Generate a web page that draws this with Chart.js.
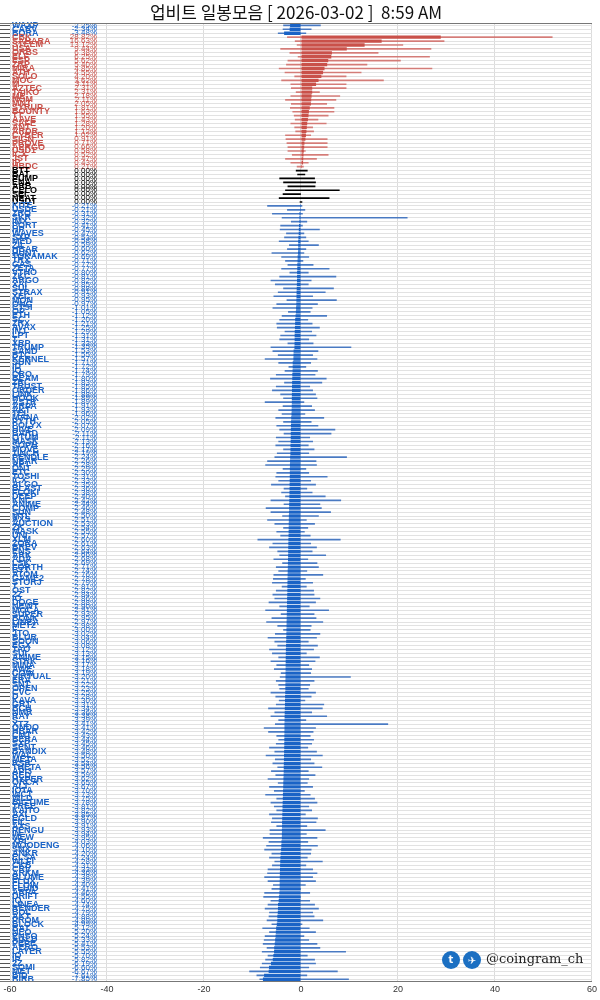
<!DOCTYPE html>
<html><head><meta charset="utf-8">
<script src="https://cdn.jsdelivr.net/npm/chart.js@4"></script>
<style>html,body{margin:0;padding:0;background:#fff}#wrap{width:600px;height:1000px;position:relative}</style>
</head><body><div id="wrap"><canvas id="c"></canvas></div>
<script>
const titleText = '업비트 일봉모음 [ 2026-03-02 ]  8:59 AM';
const xTicks = [-60,-40,-20,0,20,40,60];

const topNames = ['WAXP','CARV','BORA'];
const topClose = [-2.25,-2.34,-3.48];
const topHigh = [4.0,2.1,1.0];
const topLow = [-3.6,-3.7,-4.7];

const redNames = ['CBK','SAHARA','STEEM','USA','ORBS','ELF','ESP','ZRP','MIRA','ATH','SOLO','MOC','M','AZTEC','TAIKO','ME','NOM','MNT','SYRUP','BOUNTY','TT','AAVE','SAFE','ANT','ARDR','CYBER','SIGN','PROVE','AERGO','USD1','ICX','JST','IP','HBDC'];
const redClose = [28.82,16.63,13.12,9.44,6.38,6.25,5.62,5.40,4.85,4.55,4.20,3.62,3.11,2.31,2.31,2.18,2.11,2.05,1.81,1.63,1.55,1.43,1.28,1.20,1.12,1.02,0.91,0.71,0.66,0.58,0.52,0.47,0.43,0.21];
const redHigh = [51.8,29.5,21.0,26.8,15.9,26.5,20.5,13.6,27.0,12.4,9.3,17.0,9.3,9.3,3.8,8.0,7.2,5.3,6.8,6.8,5.6,3.5,5.2,2.4,2.6,2.0,5.4,5.4,5.4,0.9,5.6,3.2,1.5,0.5];
const redLow = [-2.8,-1.2,-0.8,-4.2,-2.3,-0.6,-2.7,-3.0,-4.5,-3.3,-1.3,-4.0,-2.1,-2.0,-1.0,-2.1,-3.2,-2.0,-2.2,-1.7,-1.4,-1.2,-2.1,-1.3,-1.1,-3.2,-3.1,-2.9,-2.7,-2.7,-1.8,-3.2,-2.1,-0.8];

const zeroNames = ['BTT','BAT','PUMP','ENA','ARB','CELO','SEI','NEAT','USDT'];
const zeroClose = [0,0,0,0,0,0,0,0,0];
const zeroHigh = [1.3,0.8,2.8,3.0,2.9,7.9,0.0,5.8,0.2];
const zeroLow = [-1.0,-0.7,-4.4,-3.6,-2.7,-3.2,-3.7,-4.5,-0.2];

const blueNames = [
'KITE','USDE','ZRO','SKR','IMX','PORT','HP','WAVES','SXP','MED',
'ZIL','HBAR','HUNT','TOKAMAK','TRX','GAS','ZETA','VTHO','ZKC','ARGO',
'XAI','SUI','STRAX','XEC','MON','ONG','CTSI','OP','ETH','SC',
'ZRX','AVAX','INJ','LPT','T','XRP','TRUMP','SAND','BTC','KERNEL',
'SUN','ID','IQ','CRO','BEAM','ZRC','TRUST','ORDER','LINK','HOOK',
'ASTR','ARPA','AKT','TEL','MANA','PYTH','POLYX','HIVE','BARD','QTUM',
'MASK','SOPH','MOVE','1INCH','PENDLE','NEAR','APT','ONT','ETC','TOSHI',
'ICX','ALGO','BLAST','FLOKI','DEEP','KNC','ANIME','COMP','SUN','MTL',
'AXS','AUCTION','ZK','MASK','UNI','XLM','ZORA','BREV','ENS','ARK',
'ADA','LSK','FORTH','BTT','ATOM','GAME2','STORJ','T','OST','2Z',
'IO','DOGE','NEWT','MOCA','SUPER','BONK','LINEA','MET2','F','JTO',
'BLUR','SOON','EGX','TAO','SUI','ANIME','STRK','MINA','AWE','COW',
'VIRTUAL','ERA','SNT','OPEN','CVC','D','KAVA','GRT','BCH','NMR',
'RAY','S','XTZ','ONDO','HBAR','CMT','BERA','SXP','SENT','BANDIX',
'WAL','META','RSR','THETA','API3','RED','HYPER','ORCA','ALT','IOTA',
'WCT','WLD','BIGTIME','TREE','KAITO','AXL','EGLD','FIL','AXS','PENGU',
'IN','MEW','XPL','MOODENG','SNX','ANKR','ELSA','WLFI','CKB','CRV',
'ARKM','BLUME','FLUX','FLOW','FLUID','ARPA','DRIFT','IQ','LINEA','RENDER',
'BOL','AKT','PROM','BLOCK','BAT','NEO','ENSO','AGLD','PEPE','AERO',
'LAYER','IO','IP','2Z','SOMI','MET','BID','BIRB'];
const blueClose = [
-0.21,-0.21,-0.31,-0.32,-0.32,-0.41,-0.45,-0.47,-0.53,-0.58,
-0.59,-0.60,-0.62,-0.69,-0.71,-0.77,-0.77,-0.80,-0.81,-0.82,
-0.85,-0.88,-0.91,-0.93,-0.95,-0.97,-1.01,-1.05,-1.12,-1.20,
-1.21,-1.25,-1.29,-1.31,-1.31,-1.33,-1.35,-1.53,-1.55,-1.57,
-1.71,-1.72,-1.74,-1.79,-1.80,-1.83,-1.85,-1.86,-1.88,-1.89,
-1.89,-1.91,-1.93,-1.96,-2.02,-2.05,-2.07,-2.09,-2.11,-2.11,
-2.13,-2.16,-2.17,-2.19,-2.24,-2.26,-2.28,-2.29,-2.30,-2.31,
-2.33,-2.35,-2.36,-2.38,-2.40,-2.42,-2.44,-2.46,-2.48,-2.50,
-2.51,-2.53,-2.54,-2.55,-2.57,-2.60,-2.61,-2.63,-2.64,-2.66,
-2.68,-2.69,-2.71,-2.74,-2.76,-2.78,-2.79,-2.81,-2.82,-2.84,
-2.86,-2.88,-2.90,-2.91,-2.93,-2.95,-2.97,-2.98,-3.00,-3.02,
-3.04,-3.06,-3.08,-3.12,-3.13,-3.15,-3.16,-3.17,-3.18,-3.19,
-3.20,-3.21,-3.22,-3.23,-3.25,-3.28,-3.30,-3.31,-3.34,-3.36,
-3.38,-3.39,-3.41,-3.41,-3.42,-3.43,-3.44,-3.45,-3.46,-3.48,
-3.50,-3.52,-3.54,-3.56,-3.57,-3.59,-3.62,-3.65,-3.67,-3.70,
-3.73,-3.75,-3.78,-3.81,-3.82,-3.85,-3.87,-3.90,-3.91,-3.93,
-3.94,-3.95,-4.03,-4.06,-4.10,-4.20,-4.24,-4.28,-4.31,-4.33,
-4.36,-4.38,-4.39,-4.40,-4.41,-4.46,-4.55,-4.60,-4.74,-4.75,
-4.79,-4.88,-4.89,-4.99,-5.12,-5.20,-5.24,-5.33,-5.41,-5.53,
-5.55,-5.70,-5.82,-6.19,-6.60,-6.67,-7.61,-7.85];
const blueHigh = [
0.2,0.8,0.3,21.9,1.2,0.3,3.8,0.6,1.0,1.5,
3.6,1.0,0.6,1.6,0.4,2.5,5.8,1.5,7.2,2.1,
1.5,6.7,5.0,2.4,7.3,3.4,2.3,1.9,5.3,1.4,
2.3,3.8,2.2,3.1,1.6,2.5,10.3,3.5,2.4,3.3,
2.0,1.0,3.4,2.9,5.2,4.3,1.8,2.4,3.0,3.3,
0.6,2.2,2.8,0.8,4.7,2.1,3.5,7.0,6.2,1.8,
2.4,1.5,2.7,1.6,9.4,3.1,3.2,1.0,1.6,5.4,
2.0,3.0,1.2,2.3,5.0,8.2,3.9,4.2,6.1,3.6,
1.1,2.8,1.4,0.7,1.9,8.1,2.0,3.2,2.3,5.1,
1.4,3.3,3.6,1.2,4.5,0.9,2.4,1.1,2.6,2.7,
3.9,3.0,1.7,5.7,2.7,3.1,4.5,2.1,1.9,3.9,
3.2,1.5,3.4,2.6,1.1,3.8,2.9,1.6,2.2,2.0,
10.2,2.7,1.8,1.5,3.0,2.1,0.8,4.7,4.4,2.2,
5.3,1.0,17.9,3.0,2.5,1.9,2.6,2.2,1.4,3.2,
4.4,2.0,2.7,4.3,1.5,2.9,1.6,1.3,2.4,0.7,
1.9,2.8,3.3,1.6,2.2,0.9,3.4,3.1,1.2,5.0,
1.1,3.3,1.4,3.4,2.1,2.0,1.3,4.4,1.0,2.4,
3.3,2.4,3.0,0.9,0.0,1.8,0.0,1.8,2.8,3.6,
2.4,2.7,4.5,0.2,1.7,3.0,0.6,1.6,3.3,3.9,
9.2,1.3,2.8,3.0,1.6,7.5,1.2,9.8];
const blueLow = [
-6.9,-2.8,-5.9,-3.9,-2.0,-4.2,-4.3,-3.0,-3.4,-4.5,
-2.4,-2.8,-6.0,-4.0,-3.2,-2.7,-4.0,-2.3,-4.4,-6.2,
-5.3,-3.6,-4.7,-5.6,-2.9,-5.0,-5.8,-2.6,-3.9,-4.4,
-5.0,-4.9,-3.3,-4.2,-4.4,-2.7,-6.2,-5.8,-4.7,-7.4,
-4.6,-2.5,-3.3,-5.1,-6.3,-3.4,-5.1,-5.9,-4.2,-3.6,
-7.4,-3.7,-4.6,-3.9,-5.2,-3.6,-5.0,-4.4,-3.5,-5.1,
-4.6,-5.2,-3.6,-4.9,-5.4,-6.9,-7.3,-3.7,-5.0,-5.2,
-4.6,-6.1,-3.5,-4.0,-3.2,-6.2,-3.5,-7.2,-6.2,-3.8,
-6.9,-5.4,-3.6,-5.0,-4.2,-8.9,-5.8,-6.5,-4.8,-4.4,
-5.6,-3.8,-5.1,-4.6,-5.6,-5.7,-5.9,-3.9,-5.1,-5.8,
-5.4,-6.6,-4.4,-7.3,-4.1,-6.0,-7.1,-4.8,-3.6,-5.3,
-6.8,-5.4,-4.8,-6.5,-5.9,-4.6,-6.2,-5.0,-5.5,-4.1,
-4.3,-5.1,-4.6,-4.4,-6.2,-5.2,-4.5,-5.1,-6.7,-5.4,
-6.2,-4.6,-5.3,-7.6,-6.7,-5.0,-4.6,-5.1,-6.5,-5.4,
-7.2,-5.3,-5.8,-4.8,-6.1,-5.2,-6.8,-4.7,-6.5,-5.5,
-7.3,-5.0,-6.2,-5.5,-5.0,-6.5,-5.9,-6.1,-5.0,-6.4,
-6.4,-7.8,-6.6,-7.1,-7.5,-6.0,-6.5,-5.4,-5.9,-6.8,
-6.9,-7.5,-6.8,-5.7,-6.0,-7.5,-7.7,-6.2,-6.8,-7.4,
-6.5,-6.6,-7.0,-6.0,-7.9,-6.5,-7.4,-7.6,-7.8,-7.0,
-8.0,-6.8,-7.3,-8.0,-8.4,-10.6,-9.1,-8.5];

const names = [...topNames, ...redNames, ...zeroNames, ...blueNames];
const closes = [...topClose, ...redClose, ...zeroClose, ...blueClose];
const highs = [...topHigh, ...redHigh, ...zeroHigh, ...blueHigh];
const lows = [...topLow, ...redLow, ...zeroLow, ...blueLow];

const RED='#c9514a', BLUE='#1a63c6', BLACK='#000';
const col = v => v>0?RED:(v<0?BLUE:BLACK);
const wickCol = v => v>0?'rgba(205,90,84,0.75)':(v<0?'rgba(35,95,185,0.8)':'#000');

const labelPlugin = {
  id:'rowLabels',
  afterDatasetsDraw(chart){
    const {ctx, scales:{y}} = chart;
    ctx.save();
    ctx.textBaseline='middle';
    names.forEach((n,i)=>{
      const py = y.getPixelForValue(i);
      ctx.fillStyle = col(closes[i]);
      ctx.font = 'bold 9px "Liberation Sans"';
      ctx.textAlign='left';
      ctx.fillText(n, 12, py);
      ctx.font = '8px "Liberation Sans"';
      ctx.textAlign='right';
      ctx.fillText(closes[i].toFixed(2)+'%', 97, py);
    });
    const a = chart.chartArea;
    ctx.strokeStyle='#777'; ctx.lineWidth=1;
    ctx.beginPath();
    ctx.moveTo(0,Math.round(a.top)+0.5); ctx.lineTo(a.right,Math.round(a.top)+0.5);
    ctx.moveTo(0,Math.round(a.bottom)+0.5); ctx.lineTo(a.right,Math.round(a.bottom)+0.5);
    ctx.stroke();
    const wy = 960;
    [451,472].forEach(cx=>{
      ctx.beginPath(); ctx.arc(cx,wy,9,0,Math.PI*2); ctx.fillStyle='#1b6fc2'; ctx.fill();
    });
    ctx.fillStyle='#fff'; ctx.font='bold 10px "DejaVu Sans"'; ctx.textAlign='center';
    ctx.fillText('✈',472,wy+1);
    ctx.fillText('t',451,wy);
    ctx.fillStyle='#222'; ctx.font='13px "DejaVu Serif"'; ctx.textAlign='left';
    ctx.fillText('@coingram_ch',486,wy);
    ctx.restore();
  }
};

new Chart(document.getElementById('c'), {
  type:'bar',
  data:{
    labels:names,
    datasets:[
      {label:'range', data:names.map((_,i)=>[lows[i],highs[i]]), backgroundColor:closes.map(wickCol), barThickness:1, grouped:false, order:2},
      {label:'body', data:names.map((_,i)=>[0,closes[i]]), backgroundColor:closes.map(col), barPercentage:1, categoryPercentage:0.85, grouped:false, order:1}
    ]
  },
  options:{
    indexAxis:'y', responsive:true, maintainAspectRatio:false, animation:false,
    layout:{padding:{left:0,right:8,top:2,bottom:2}},
    plugins:{
      legend:{display:false}, tooltip:{enabled:false},
      title:{display:true, text:titleText, color:'#111', font:{size:17, family:'"Noto Sans CJK KR"', weight:'normal'}, padding:{top:0,bottom:1}}
    },
    scales:{
      x:{min:-60,max:60, afterBuildTicks(s){s.ticks=xTicks.map(v=>({value:v}));},
         ticks:{color:'#333', font:{size:9, family:'"Liberation Sans"'}, maxRotation:0},
         grid:{color:'#dcdcdc', drawTicks:false}, border:{display:false}},
      y:{ticks:{display:false, autoSkip:false}, grid:{color:'#e2e2e2', tickLength:10, tickColor:'#555', offset:false}, border:{display:false}}
    }
  },
  plugins:[labelPlugin]
});
</script></body></html>
